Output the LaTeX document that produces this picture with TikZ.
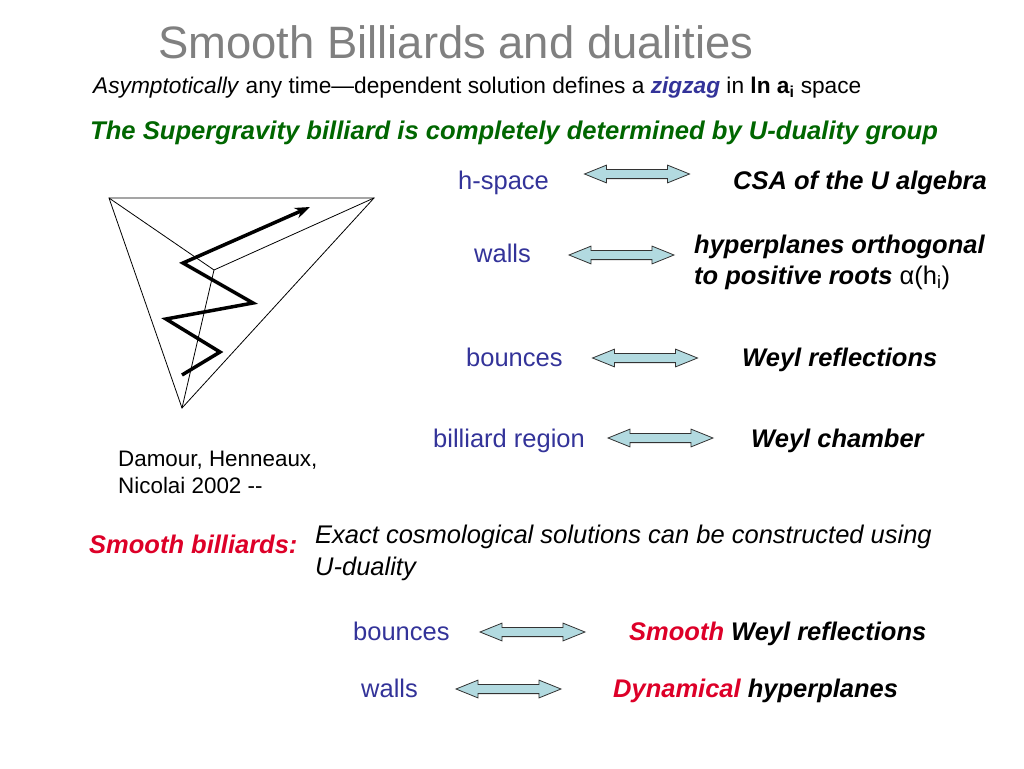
\documentclass[tikz,border=0pt]{standalone}
\usepackage{fontspec}
\setmainfont{Liberation Sans}
\usetikzlibrary{shapes.arrows,arrows.meta}
\definecolor{titlegray}{RGB}{128,128,128}
\definecolor{tblue}{RGB}{51,51,153}
\definecolor{tgreen}{RGB}{0,102,0}
\definecolor{tred}{RGB}{221,0,40}
\definecolor{afill}{RGB}{178,218,224}
\begin{document}
\begin{tikzpicture}[x=1pt,y=-1pt,
  txt/.style={anchor=base west,inner sep=0pt,font=\fontsize{25.5}{30}\selectfont},
  lbl/.style={txt,text=tblue},
  res/.style={txt,font=\fontsize{25.5}{30}\selectfont\bfseries\itshape},
  darrow/.style={double arrow,draw=black!80,line width=0.8pt,fill=afill,
    minimum height=105pt,minimum width=17pt,inner sep=4.2pt,
    double arrow head extend=4.3pt,double arrow tip angle=44},
  thin/.style={line width=0.8pt},
  zig/.style={line width=3.5pt,line join=miter,-{Stealth[length=15pt,width=11pt]}}]
\useasboundingbox (0,0) rectangle (1024,768);
% title
\node[txt,text=titlegray,font=\fontsize{45.4}{50}\selectfont] (title) at (158,59) {Smooth Billiards and dualities};
\node[txt,font=\fontsize{22.7}{26}\selectfont] (sub) at (93,93) {\textit{Asymptotically} any time—dependent solution defines a \textcolor{tblue}{\textbf{\textit{zigzag}}} in \textbf{ln a\textsubscript{i}} space};
\node[txt,text=tgreen,font=\fontsize{25.6}{30}\selectfont\bfseries\itshape] (green) at (90,139) {The Supergravity billiard is completely determined by U-duality group};
% triangle
\coordinate (A) at (109,198);
\coordinate (B) at (374,198);
\coordinate (C) at (182,408);
\coordinate (D) at (214,270);
\draw[thin] (A) -- (B) -- (C) -- cycle;
\draw[thin] (A) -- (D) -- (B);
\draw[thin] (D) -- (C);
\coordinate (z0) at (182,375);
\coordinate (z1) at (220,352);
\coordinate (z2) at (166,319);
\coordinate (z3) at (253,303);
\coordinate (z4) at (183,263);
\coordinate (z5) at (310,207);
\draw[zig] (z0) -- (z1) -- (z2) -- (z3) -- (z4) -- (z5);
% rows
\node[lbl] (hs) at (458,189) {h-space};
\node[darrow] (a1) at (637,174) {};
\node[res] (csa) at (733,189) {CSA of the U algebra};
\node[lbl] (wa) at (474,262) {walls};
\node[darrow] (a2) at (621.5,255) {};
\node[res] (hyp1) at (694,253) {hyperplanes orthogonal};
\node[res] (hyp2) at (694,284) {to positive roots \textup{\mdseries α(h\textsubscript{i})}};
\node[lbl] (bo) at (466,366) {bounces};
\node[darrow] (a3) at (645,358) {};
\node[res] (wr) at (742,366) {Weyl reflections};
\node[lbl] (br) at (433,447) {billiard region};
\node[darrow] (a4) at (660.5,438) {};
\node[res] (wc) at (751,447) {Weyl chamber};
\node[txt,font=\fontsize{22.4}{27}\selectfont] (dh1) at (118,466) {Damour, Henneaux,};
\node[txt,font=\fontsize{22.4}{27}\selectfont] (dh2) at (118,493) {Nicolai 2002 -{}-};
\node[res,text=tred] (sb) at (89,553) {Smooth billiards:};
\node[txt,font=\fontsize{25.5}{30}\selectfont\itshape] (ex1) at (315,543) {Exact cosmological solutions can be constructed using};
\node[txt,font=\fontsize{25.5}{30}\selectfont\itshape] (ex2) at (315,575) {U-duality};
\node[lbl] (bo2) at (353,640) {bounces};
\node[darrow] (a5) at (532.5,632) {};
\node[res] (sw) at (629,640) {\textcolor{tred}{Smooth} Weyl reflections};
\node[lbl] (wa2) at (361,697) {walls};
\node[darrow] (a6) at (508.5,689) {};
\node[res] (dy) at (613,697) {\textcolor{tred}{Dynamical} hyperplanes};
\end{tikzpicture}
\end{document}
